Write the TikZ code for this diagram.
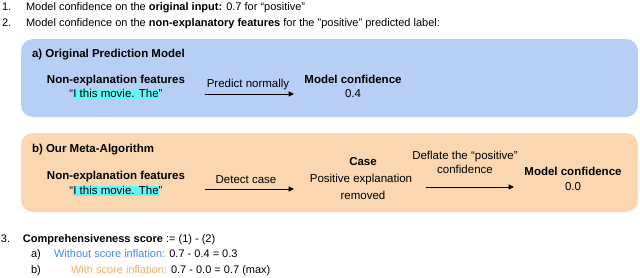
\documentclass[tikz,border=0pt]{standalone}
\usepackage{fontspec}
\setmainfont{Liberation Sans}
\usetikzlibrary{arrows.meta}
\definecolor{boxblue}{RGB}{183,206,245}
\definecolor{boxpeach}{RGB}{250,215,176}
\definecolor{hlcyan}{RGB}{100,246,246}
\definecolor{txtblue}{RGB}{74,134,232}
\definecolor{txtorange}{RGB}{246,172,92}
\newcommand\hlcy[1]{{\setlength\fboxsep{0pt}\colorbox{hlcyan}{\rule[-2pt]{0pt}{10pt}#1}}}
\begin{document}
\begin{tikzpicture}[x=1pt,y=-1pt,
  every node/.style={inner sep=0pt, outer sep=0pt},
  outer/.style={font=\fontsize{11}{13}\selectfont, anchor=base west},
  inbox/.style={font=\fontsize{11.5}{14}\selectfont, anchor=base},
  inboxl/.style={font=\fontsize{11.5}{14}\selectfont, anchor=base west},
  panel/.style={rounded corners=12pt, anchor=north west, minimum width=617pt},
  flow/.style={line width=1pt, -{Triangle[length=5.5pt,width=5pt]}}
]
\useasboundingbox (0,0) rectangle (640,277);
% top lines
\node[outer] (n1) at (2,10) {1.};
\node[outer] (l1) at (26,10) {Model confidence on the \textbf{original input:} 0.7 for “positive”};
\node[outer] (n2) at (2,26) {2.};
\node[outer] (l2) at (26,26) {Model confidence on the \textbf{non-explanatory features} for the "positive" predicted label:};
% panel a
\node[panel, fill=boxblue, minimum height=78pt] (pa) at (21,39) {};
\node[inboxl] (ha) at (32,57) {\textbf{a) Original Prediction Model}};
\node[inbox] (fa) at (116,83) {\textbf{Non-explanation features}};
\node[inbox] (qa) at (116,97) {“\hlcy{I this movie. The}”};
\coordinate (as) at (205,94);
\coordinate (ae) at (294,94);
\draw[flow] (as) -- (ae);
\node[inbox] (la) at (248,87) {Predict normally};
\node[inbox] (ma) at (353,83) {\textbf{Model confidence}};
\node[inbox] (va) at (353,97) {0.4};
% panel b
\node[panel, fill=boxpeach, minimum height=79pt] (pb) at (21,133) {};
\node[inboxl] (hb) at (32,152) {\textbf{b) Our Meta-Algorithm}};
\node[inbox] (fb) at (116,179) {\textbf{Non-explanation features}};
\node[inbox] (qb) at (116,194) {“\hlcy{I this movie. The}”};
\coordinate (bs) at (205,189);
\coordinate (be) at (294,189);
\draw[flow] (bs) -- (be);
\node[inbox] (lb) at (246,183) {Detect case};
\node[inbox] (cb1) at (363,165) {\textbf{Case}};
\node[inbox] (cb2) at (361,182) {Positive explanation};
\node[inbox] (cb3) at (363,199) {removed};
\node[inbox] (db1) at (465,159) {Deflate the “positive”};
\node[inbox] (db2) at (465,173) {confidence};
\coordinate (cs) at (426,187);
\coordinate (ce) at (514,187);
\draw[flow] (cs) -- (ce);
\node[inbox] (mb) at (573,175) {\textbf{Model confidence}};
\node[inbox] (vb) at (573,190) {0.0};
% bottom lines
\node[outer] (n3) at (1,242) {3.};
\node[outer] (l3) at (23,242) {\textbf{Comprehensiveness score} := (1) - (2)};
\node[outer] (n3a) at (31,257) {a)};
\node[outer] (l3a) at (54,257) {\textcolor{txtblue}{Without score inflation:} 0.7 - 0.4 = 0.3};
\node[outer] (n3b) at (31,273) {b)};
\node[outer] (l3b) at (71,273) {\textcolor{txtorange}{With score inflation:} 0.7 - 0.0 = 0.7 (max)};
\end{tikzpicture}
\end{document}
